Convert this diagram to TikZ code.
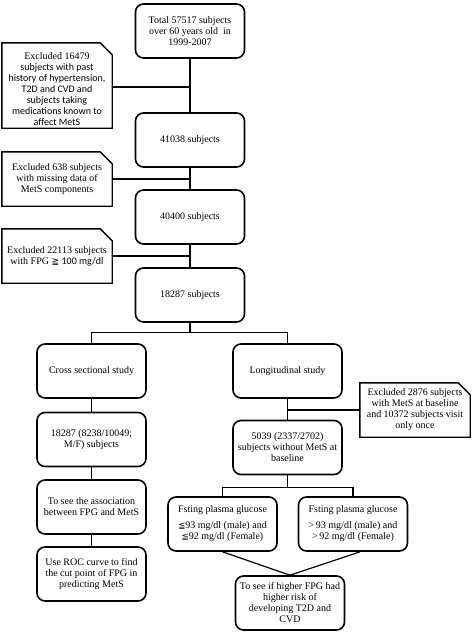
\documentclass[tikz,border=0pt]{standalone}
\usepackage{fontspec}
\setmainfont{Liberation Serif}
\newfontfamily\calfont{Carlito}
\newfontfamily\symfont{DejaVu Sans}
\begin{document}
\begin{tikzpicture}[x=1pt,y=-1pt,
  every node/.style={font=\fontsize{10}{11}\selectfont, inner sep=1pt, align=center},
  mainbox/.style={draw, line width=1.6pt, rounded corners=8pt, minimum width=109pt, minimum height=54pt},
  exclbox/.style={minimum width=110pt, minimum height=54pt},
  exclline/.style={line width=1.4pt, line join=miter},
  conn/.style={line width=1.2pt}]
\useasboundingbox (0,0) rectangle (474,638);

% main column
\node[mainbox] (tot) at (190,31) {Total 57517 subjects\\over 60 years old\ \ in\\1999-2007};
\node[mainbox] (n41) at (190,140) {41038 subjects};
\node[mainbox] (n404) at (190,217) {40400 subjects};
\node[mainbox] (n182) at (190,295) {18287 subjects};

% exclusion boxes
\node[exclbox, minimum height=85pt] (e1) at (57,85.5) {\rule{0pt}{15pt}Excluded 16479\\{\calfont subjects with past}\\{\calfont history of hypertension,}\\{\calfont T2D and CVD and}\\{\calfont subjects taking}\\{\calfont medications known to}\\{\calfont affect MetS}};
\node[exclbox] (e2) at (57,179) {Excluded 638 subjects\\with missing data of\\MetS components};
\node[exclbox] (e3) at (57,256) {Excluded 22113 subjects\\with FPG {\symfont\fontsize{9}{11}\selectfont ≧} {\calfont 100 mg/dl}};
\node[exclbox] (e4) at (415,410) {Excluded 2876 subjects\\with MetS at baseline\\and 10372 subjects visit\\only once};
\foreach \e in {e1,e2,e3,e4}{
  \draw[exclline] (\e.south west) |- ([xshift=-12pt]\e.north east) -- ([yshift=-12pt]\e.north east) |- cycle;
}

% branches
\node[mainbox] (cross) at (91.5,371) {Cross sectional study};
\node[mainbox] (longi) at (287.5,371) {Longitudinal study};
\node[mainbox] (n18) at (91.5,439.5) {18287 (8238/10049;\\M/F) subjects};
\node[mainbox] (n50) at (287.5,447.5) {5039 (2337/2702)\\subjects without MetS at\\baseline};
\node[mainbox] (assoc) at (91.5,507) {To see the association\\between FPG and MetS};
\node[mainbox] (roc) at (91.5,574) {Use ROC curve to find\\the cut point of FPG in\\predicting MetS};
\node[mainbox] (low) at (222.5,524) {Fsting plasma glucose\\[5pt]{\symfont\fontsize{8.5}{11}\selectfont ≦}93 mg/dl (male) and\\{\symfont\fontsize{8.5}{11}\selectfont ≦}92 mg/dl (Female)};
\node[mainbox] (high) at (353,524) {Fsting plasma glucose\\[5pt]\textgreater\,93 mg/dl (male) and\\\textgreater\,92 mg/dl (Female)};
\node[mainbox] (final) at (290,603) {To see if higher FPG had\\higher risk of\\developing T2D and\\CVD};

% connectors
\draw[conn] (tot.south) -- (n41.north);
\draw[conn] (e1.east) ++(0,1.5) coordinate (e1c) -- (e1c -| tot.south);
\draw[conn] (n41.south) -- (n404.north);
\draw[conn] (e2.east) -- (e2.east -| n41.south);
\draw[conn] (n404.south) -- (n182.north);
\draw[conn] (e3.east) -- (e3.east -| n404.south);
\draw[conn] (n182.south) -- ++(0,10) coordinate (b1);
\draw[conn] (cross.north) |- (b1) -| (longi.north);
\draw[conn] (cross.south) -- (n18.north);
\draw[conn] (n18.south) -- (assoc.north);
\draw[conn] (assoc.south) -- (roc.north);
\draw[conn] (longi.south) -- (n50.north);
\draw[conn] (e4.west) -- (e4.west -| longi.south);
\draw[conn] (n50.south) -- ++(0,12) coordinate (b2);
\draw[conn] (low.north) |- (b2) -| (high.north);
\draw[conn] (low.south) -- (final.north);
\draw[conn] ([xshift=7pt]high.south) -- (final.north);
\end{tikzpicture}
\end{document}
